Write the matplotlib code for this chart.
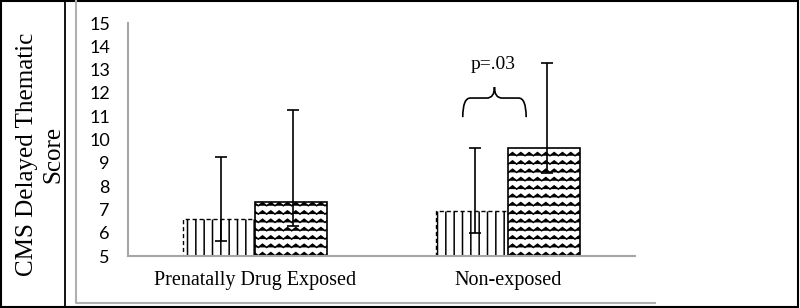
import warnings
import numpy as np
import matplotlib
matplotlib.use('Agg')
import matplotlib.pyplot as plt
import matplotlib.hatch as mhatch
from matplotlib.path import Path
from matplotlib.patches import PathPatch, Rectangle
from matplotlib.lines import Line2D

warnings.filterwarnings('ignore')

# data
groups = ['Prenatally Drug Exposed', 'Non-exposed']
series_a = [6.6, 6.95]          # vertical-line bars
series_b = [7.3, 9.62]          # wavy bars
a_err_lo = [0.95, 0.97]
a_err_hi = [2.65, 2.67]
b_err_lo = [1.0, 1.05]
b_err_hi = [3.97, 3.65]
yticks = list(range(5, 16))
p_label = 'p=.03'


# custom wavy hatch, '~' in the hatch string
class WavyHatch(mhatch.HatchPatternBase):
    n_waves = 12

    def __init__(self, hatch, density):
        self.num_lines = int(hatch.count('~') * density)
        self.pts = 2 * self.n_waves + 1
        self.num_vertices = self.num_lines * self.pts

    def set_vertices_and_codes(self, vertices, codes):
        xs = np.linspace(0.0, 1.0, self.pts)
        amp = np.where(np.arange(self.pts) % 2 == 0, -0.016, 0.016)
        steps, step = np.linspace(0.0, 1.0, self.num_lines, False, retstep=True)
        steps += step / 2.0
        for i, y in enumerate(steps):
            sl = slice(i * self.pts, (i + 1) * self.pts)
            vertices[sl, 0] = xs
            vertices[sl, 1] = y + amp
            codes[sl] = Path.LINETO
            codes[i * self.pts] = Path.MOVETO


mhatch._hatch_types.append(WavyHatch)
plt.rcParams['hatch.linewidth'] = 1.1

fig = plt.figure(figsize=(8, 3.08), dpi=100)
ax = fig.add_axes([0.16, 0.1688, 0.634, 0.7565])

x = np.arange(len(groups))
w = 0.284
ax.bar(x - w / 2, series_a, w, bottom=0, color='white', edgecolor='black',
       hatch='||', linewidth=1.0, linestyle=(0, (3, 2)), zorder=2)
ax.bar(x + w / 2, series_b, w, color='white', edgecolor='black',
       hatch='~~', linewidth=1.2, zorder=2)
ax.errorbar(x - w / 2 + 0.01, series_a, yerr=[a_err_lo, a_err_hi], fmt='none',
            ecolor='black', elinewidth=1.2, capsize=4, capthick=1.2, zorder=3)
ax.errorbar(x + w / 2 + 0.01, series_b, yerr=[b_err_lo, b_err_hi], fmt='none',
            ecolor='black', elinewidth=1.2, capsize=4, capthick=1.2, zorder=3)

ax.set_xlim(-0.5, 1.5)
ax.set_ylim(5, 15)
ax.set_yticks(yticks)
ax.set_xticks(x)
ax.set_xticklabels(groups, fontfamily='Liberation Serif', fontsize=14.5)
for t in ax.get_yticklabels():
    t.set_fontfamily('Lato')
    t.set_fontsize(13)
ax.tick_params(axis='y', length=0, pad=13)
ax.tick_params(axis='x', length=0, pad=11)
for s in ['top', 'right']:
    ax.spines[s].set_visible(False)
for s in ['left', 'bottom']:
    ax.spines[s].set_color('#a6a6a6')
    ax.spines[s].set_linewidth(1.5)

# brace + p value over the Non-exposed pair
xl, xr, xc = 0.82, 1.07, 0.945
ybot, ytop, ytip = 10.96, 11.78, 12.25
verts = [(xl, ybot), (xl, ytop), (xl + 0.03, ytop), (xc - 0.03, ytop),
         (xc, ytop), (xc, ytip), (xc, ytop), (xc + 0.03, ytop),
         (xr - 0.03, ytop), (xr, ytop), (xr, ybot)]
codes = [Path.MOVETO, Path.CURVE3, Path.CURVE3, Path.LINETO,
         Path.CURVE3, Path.CURVE3, Path.CURVE3, Path.CURVE3,
         Path.LINETO, Path.CURVE3, Path.CURVE3]
ax.add_patch(PathPatch(Path(verts, codes), fill=False, lw=1.2,
                       edgecolor='black', clip_on=False))
ax.text(0.94, 13.2, p_label, ha='center', va='center',
        fontfamily='Liberation Serif', fontsize=14)

# frames
fig.add_artist(Rectangle((0.001, 0.003), 0.997, 0.994, transform=fig.transFigure,
                         fill=False, edgecolor='black', lw=1.5))
fig.add_artist(Line2D([0.081, 0.081], [0, 1], transform=fig.transFigure,
                      color='black', lw=1.3))
fig.add_artist(Line2D([0.095, 0.095, 0.819], [1, 0.016, 0.016],
                      transform=fig.transFigure, color='#b0b0b0', lw=1.5))

fig.text(0.05, 0.5, 'CMS Delayed Thematic\nScore', rotation=90,
         ha='center', va='center', multialignment='center',
         fontfamily='Liberation Serif', fontsize=18, linespacing=1.25)

fig.savefig('out.png', dpi=100)
